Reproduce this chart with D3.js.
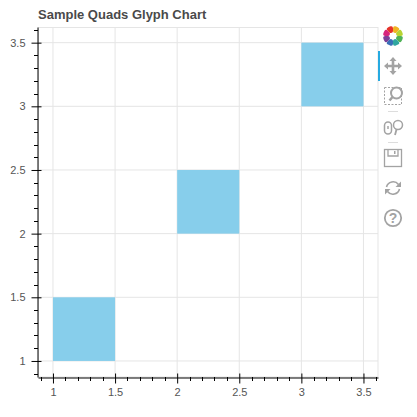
<!DOCTYPE html>
<html><head><meta charset="utf-8">
<script src="https://cdn.jsdelivr.net/npm/d3@7"></script>
<style>html,body{margin:0;padding:0;background:#fff}svg{display:block}text{font-family:"Liberation Sans",Arial,sans-serif}</style>
</head><body><svg id="c" width="417" height="417"></svg>
<script>
const title = "Sample Quads Glyph Chart";
const lefts = [1, 2, 3];
const rights = [1.5, 2.5, 3.5];
const bottoms = [1, 2, 3];
const tops = [1.5, 2.5, 3.5];
const majorTicks = [1, 1.5, 2, 2.5, 3, 3.5];
const minorX = [0.9,1.1,1.2,1.3,1.4,1.6,1.7,1.8,1.9,2.1,2.2,2.3,2.4,2.6,2.7,2.8,2.9,3.1,3.2,3.3,3.4,3.6];
const minorY = [0.9,1.1,1.2,1.3,1.4,1.6,1.7,1.8,1.9,2.1,2.2,2.3,2.4,2.6,2.7,2.8,2.9,3.1,3.2,3.3,3.4,3.6];
const logoColors = ["#f0b323","#b7d433","#4fb257","#2fa6a0","#3a6fb7","#7b3f98","#d6247c","#e5332a"];

const svg = d3.select("#c");
const L=38, R=378, T=27, B=377;
const x = d3.scaleLinear().domain([0.8795,3.617]).range([L,R]);
const y = d3.scaleLinear().domain([0.874,3.623]).range([B,T]);
const fmt = d => String(d);

// grid
const grid = svg.append("g").attr("stroke","#e5e5e5").attr("stroke-width",1);
majorTicks.forEach(t=>{
  grid.append("line").attr("x1",x(t)).attr("x2",x(t)).attr("y1",T).attr("y2",B);
  grid.append("line").attr("x1",L).attr("x2",R).attr("y1",y(t)).attr("y2",y(t));
});
// plot outline
svg.append("rect").attr("x",L+.5).attr("y",T+.5).attr("width",R-L-.5).attr("height",B-T-.5)
  .attr("fill","none").attr("stroke","#e5e5e5");

// quads
svg.append("g").selectAll("rect").data(lefts).join("rect")
  .attr("x",(d,i)=>x(lefts[i])).attr("width",(d,i)=>x(rights[i])-x(lefts[i]))
  .attr("y",(d,i)=>y(tops[i])).attr("height",(d,i)=>y(bottoms[i])-y(tops[i]))
  .attr("fill","#87ceeb");

// axes
const xAxis = svg.append("g").attr("transform",`translate(0,${B+.5})`)
  .call(d3.axisBottom(x).tickValues(majorTicks).tickFormat(fmt).tickSizeInner(6).tickSizeOuter(0).tickPadding(5));
xAxis.selectAll(".tick line").attr("y1",-4).attr("y2",6);
const yAxis = svg.append("g").attr("transform",`translate(${L-.5},0)`)
  .call(d3.axisLeft(y).tickValues(majorTicks).tickFormat(fmt).tickSizeInner(6).tickSizeOuter(0).tickPadding(6));
yAxis.selectAll(".tick line").attr("x1",4).attr("x2",-6);
[xAxis,yAxis].forEach(a=>{
  a.select(".domain").attr("stroke","#000");
  a.selectAll(".tick line").attr("stroke","#000");
  a.selectAll("text").attr("fill","#555").attr("font-size",11).attr("font-family",'"Liberation Sans",Arial,sans-serif');
});
svg.append("g").selectAll("line").data(minorX).join("line")
  .attr("x1",d=>Math.round(x(d))+.5).attr("x2",d=>Math.round(x(d))+.5).attr("y1",B).attr("y2",B+4).attr("stroke","#000");
svg.append("g").selectAll("line").data(minorY).join("line")
  .attr("y1",d=>Math.round(y(d))+.5).attr("y2",d=>Math.round(y(d))+.5).attr("x1",L).attr("x2",L-4).attr("stroke","#000");

// title
svg.append("text").attr("x",38).attr("y",19).attr("font-size",13).attr("font-weight","bold").attr("fill","#4a4a4a").text(title);

// toolbar
const tb = svg.append("g");
const gray="#a3a3a3";
// logo
const logo = tb.append("g").attr("transform","translate(393,36)");
logo.selectAll("path").data(d3.pie().value(1).sort(null)(logoColors)).join("path")
  .attr("d",d3.arc().innerRadius(3.5).outerRadius(10).cornerRadius(2)).attr("fill",d=>d.data);
// active marker
tb.append("rect").attr("x",378).attr("y",51).attr("width",2).attr("height",30).attr("fill","#26aae1");
// pan
const pan = tb.append("g").attr("transform","translate(393,66)").attr("fill",gray);
pan.append("path").attr("d","M0,-9L3.5,-5H1.3V-1.3H5V-3.5L9,0L5,3.5V1.3H1.3V5H3.5L0,9L-3.5,5H-1.3V1.3H-5V3.5L-9,0L-5,-3.5V-1.3H-1.3V-5H-3.5Z");
// box zoom
const bz = tb.append("g").attr("transform","translate(393,96)").attr("fill","none").attr("stroke",gray);
bz.append("rect").attr("x",-8.5).attr("y",-8.5).attr("width",17).attr("height",17).attr("stroke-dasharray","2 1.5").attr("stroke-width",1);
bz.append("circle").attr("cx",3.5).attr("cy",-3).attr("r",5.5).attr("fill","#fff").attr("stroke-width",2);
bz.append("line").attr("x1",-0.5).attr("y1",1).attr("x2",-3.5).attr("y2",4.5).attr("stroke-width",2.5);
// separators
[111,142].forEach(v=>tb.append("line").attr("x1",388).attr("x2",398).attr("y1",v+.5).attr("y2",v+.5).attr("stroke","#ddd"));
// wheel zoom
const wz = tb.append("g").attr("transform","translate(393,128)").attr("fill","none").attr("stroke",gray).attr("stroke-width",1.5);
wz.append("rect").attr("x",-8.5).attr("y",-6).attr("width",7).attr("height",12).attr("rx",3.5);
wz.append("line").attr("x1",-5).attr("x2",-5).attr("y1",-2).attr("y2",1);
wz.append("circle").attr("cx",5).attr("cy",-3).attr("r",4.5);
wz.append("line").attr("x1",3.5).attr("y1",1.5).attr("x2",2).attr("y2",7).attr("stroke-width",1.8);
// save
const sv = tb.append("g").attr("transform","translate(393,158)").attr("fill","none").attr("stroke",gray).attr("stroke-width",1.3);
sv.append("rect").attr("x",-8.5).attr("y",-8.5).attr("width",17).attr("height",17);
sv.append("path").attr("d","M-5,-8.5V-2H5V-8.5");
sv.append("rect").attr("x",1).attr("y",-7).attr("width",1.5).attr("height",3).attr("fill",gray).attr("stroke","none");
// reset
const rs = tb.append("g").attr("transform","translate(393,188)").attr("fill","none").attr("stroke",gray).attr("stroke-width",1.6);
rs.append("path").attr("d","M-6.5,-1A6.8,6.8 0 0 1 5.5,-3.5");
rs.append("path").attr("d","M6.5,1A6.8,6.8 0 0 1 -5.5,3.5");
rs.append("path").attr("d","M8,-6.5V-1H2.5Z").attr("fill",gray).attr("stroke","none");
rs.append("path").attr("d","M-8,6.5V1H-2.5Z").attr("fill",gray).attr("stroke","none");
// help
const hp = tb.append("g").attr("transform","translate(393,218)");
hp.append("circle").attr("r",8.2).attr("fill","none").attr("stroke",gray).attr("stroke-width",1.8);
hp.append("text").attr("text-anchor","middle").attr("y",5).attr("font-size",14).attr("font-weight","bold").attr("fill",gray).text("?");
</script></body></html>
